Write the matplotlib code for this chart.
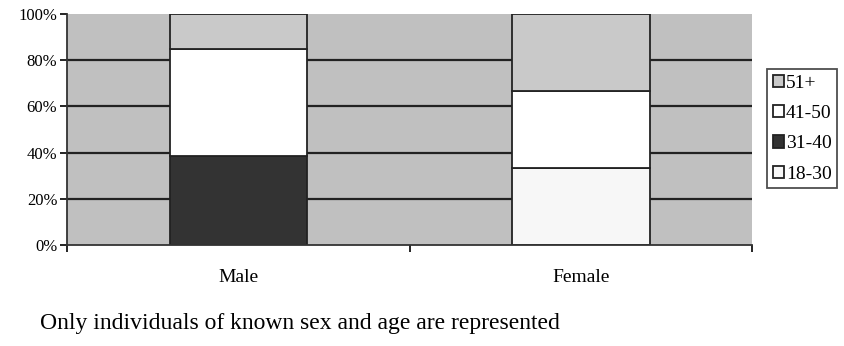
import matplotlib
matplotlib.use("Agg")
import matplotlib.pyplot as plt
import numpy as np

categories = ["Male", "Female"]
age_groups = ["18-30", "31-40", "41-50", "51+"]
values = {
    "18-30": [0.0, 33.3],
    "31-40": [38.5, 0.0],
    "41-50": [46.2, 33.4],
    "51+":   [15.3, 33.3],
}
colors = {"18-30": "#f7f7f7", "31-40": "#333333", "41-50": "#ffffff", "51+": "#c9c9c9"}
yticks = [0, 20, 40, 60, 80, 100]
ytick_labels = ["0%", "20%", "40%", "60%", "80%", "100%"]

plt.rcParams["font.family"] = ["Liberation Serif", "DejaVu Serif"]

fig = plt.figure(figsize=(8.45, 3.46), dpi=100)
ax = fig.add_axes([0.0793, 0.292, 0.811, 0.668])
ax.set_facecolor("#c0c0c0")

x = np.arange(len(categories))
for y in yticks[1:-1]:
    ax.axhline(y, color="#222222", lw=1.6, zorder=1)

bottom = np.zeros(len(categories))
handles = {}
for g in age_groups:
    v = np.array(values[g])
    b = ax.bar(x, v, width=0.4, bottom=bottom, color=colors[g], edgecolor="#222222",
               linewidth=1.3, zorder=2, label=g)
    handles[g] = b
    bottom += v

ax.set_xlim(-0.5, 1.5)
ax.set_ylim(0, 100)
ax.set_yticks(yticks)
ax.set_yticklabels(ytick_labels, fontsize=12)
ax.set_xticks([-0.5, 0.5, 1.5])
ax.set_xticklabels([])
ax.set_xticks(x, minor=True)
ax.set_xticklabels(categories, minor=True, fontsize=14)
ax.tick_params(axis="x", which="minor", length=0, pad=17)
ax.tick_params(axis="x", which="major", length=5, width=1.2, direction="out")
ax.tick_params(axis="y", length=5, width=1.2, direction="out", pad=2)
for s in ["top", "right"]:
    ax.spines[s].set_visible(False)
for s in ["left", "bottom"]:
    ax.spines[s].set_color("#333333")
    ax.spines[s].set_linewidth(1.3)

order = ["51+", "41-50", "31-40", "18-30"]
leg = fig.legend([handles[g] for g in order], order, loc="upper left",
                 bbox_to_anchor=(767 / 845, 1 - 69 / 346), fontsize=14,
                 frameon=True, fancybox=False, edgecolor="#222222",
                 handlelength=0.55, handleheight=0.6, handletextpad=0.12,
                 borderpad=0.3, labelspacing=0.68, borderaxespad=0)
leg.get_frame().set_linewidth(1.3)

fig.text(40 / 845, 1 - 324 / 346, "Only individuals of known sex and age are represented",
         fontsize=17, va="center", ha="left")

fig.savefig("out.png", dpi=100, facecolor="white")
